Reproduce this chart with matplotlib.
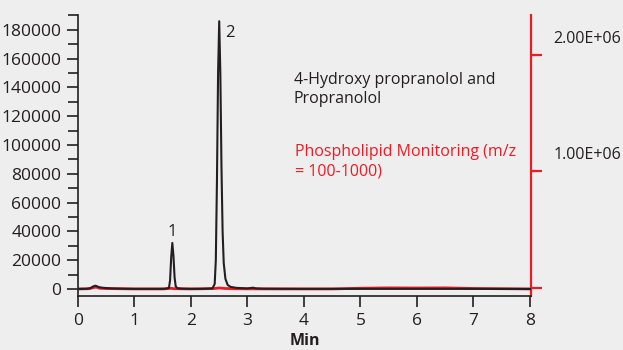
import matplotlib
matplotlib.use("Agg")
import matplotlib.pyplot as plt
from matplotlib.ticker import MultipleLocator
from matplotlib.transforms import ScaledTranslation

# ---- data ----
black_t = [0.0, 0.15, 0.22, 0.27, 0.31, 0.34, 0.38, 0.45, 0.6, 0.8, 1.0, 1.2, 1.4, 1.55,
           1.61, 1.63, 1.65, 1.67, 1.69, 1.71, 1.73, 1.76, 1.85, 2.0, 2.2, 2.38, 2.42,
           2.44, 2.46, 2.48, 2.50, 2.52, 2.54, 2.56, 2.58, 2.61, 2.65, 2.7, 2.8, 3.0,
           3.1, 3.15, 3.3, 4.0, 5.0, 6.0, 7.0, 8.05]
black_v = [0, 100, 600, 1800, 2300, 1800, 1200, 800, 400, 200, 100, 100, 100, 150,
           800, 6000, 22000, 32000, 23000, 8000, 1800, 500, 200, 100, 100, 400, 3500,
           20000, 75000, 150000, 186000, 150000, 85000, 40000, 18000, 7000, 2800, 1500, 800, 400,
           900, 400, 200, 100, 100, 100, 100, 0]

red_t = [0.0, 0.2, 0.28, 0.32, 0.38, 0.5, 0.7, 1.0, 1.5, 1.65, 1.7, 2.0, 2.4, 2.5, 2.6,
         2.8, 3.5, 4.5, 5.0, 5.5, 6.0, 6.5, 7.0, 7.5, 8.05]
red_v = [-8000, -6000, 4000, 8000, -2000, -5000, -6000, -8000, -8000, -3000, -6000, -8000,
         -5000, 0, -4000, -7000, -8000, -8000, -2000, 1000, 0, 1000, -4000, -6000, -8000]

x_ticks = [0, 1, 2, 3, 4, 5, 6, 7, 8]
left_ticks = [0, 20000, 40000, 60000, 80000, 100000, 120000, 140000, 160000, 180000]
right_ticks = [0, 1e6, 2e6]
right_labels = ["", "1.00E+06", "2.00E+06"]

peak_labels = ["1", "2"]
peak_pos = [(1.67, 34000), (2.6, 178000)]

BG = "#eeeeee"
DARK = "#231f20"
RED = "#ed1c24"

plt.rcParams["font.family"] = ["Open Sans", "DejaVu Sans"]

fig = plt.figure(figsize=(6.23, 3.5), dpi=100, facecolor=BG)
ax = fig.add_axes([78/623, 54/350, 453/623, 281/350])
ax.set_facecolor(BG)
ax2 = ax.twinx()

ax2.plot(red_t, red_v, color=RED, lw=2.0, zorder=1)
ax.plot(black_t, black_v, color=DARK, lw=1.5, zorder=3)
ax.set_zorder(ax2.get_zorder() + 1)
ax.patch.set_visible(False)
ax2.patch.set_visible(True)
ax2.patch.set_facecolor(BG)

ax.set_xlim(0, 8.02)
ax.set_ylim(-4860, 190300)
ax2.set_ylim(-68700, 2.343e6)

ax.set_xticks(x_ticks)
ax.set_xticklabels([str(t) for t in x_ticks])
ax.set_yticks(left_ticks)
ax.set_yticklabels([str(t) for t in left_ticks])
ax.yaxis.set_minor_locator(MultipleLocator(10000))

ax.tick_params(axis="both", which="major", direction="out", length=8, width=1.2,
               color=DARK, labelcolor=DARK, labelsize=12.5)
ax.tick_params(axis="y", which="minor", direction="out", length=7, width=1.2, color=DARK)
ax.tick_params(axis="y", pad=4)
ax.tick_params(axis="x", pad=4)

for s in ["top", "right"]:
    ax.spines[s].set_visible(False)
for s in ["left", "bottom"]:
    ax.spines[s].set_color(DARK)
    ax.spines[s].set_linewidth(1.2)

for s in ["top", "left", "bottom"]:
    ax2.spines[s].set_visible(False)
ax2.spines["right"].set_color(RED)
ax2.spines["right"].set_linewidth(1.6)
ax2.set_yticks(right_ticks)
ax2.set_yticklabels(right_labels)
ax2.tick_params(axis="y", direction="out", length=8, width=1.6, color=RED,
                labelcolor=DARK, labelsize=11.5, pad=8)
off = ScaledTranslation(0, 18/100, fig.dpi_scale_trans)
for lab in ax2.get_yticklabels():
    lab.set_transform(lab.get_transform() + off)

ax.set_xlabel("Min", fontsize=11.5, fontweight="bold", color=DARK, labelpad=3)

for lab, (px, py) in zip(peak_labels, peak_pos):
    ax.text(px, py, lab, fontsize=12, color=DARK, ha="center" if lab == "1" else "left",
            va="bottom" if lab == "1" else "center")

ax.text(3.82, 138500, "4-Hydroxy propranolol and\nPropranolol", fontsize=11.5,
        color=DARK, va="center", ha="left", linespacing=1.3)
ax.text(3.85, 88500, "Phospholipid Monitoring (m/z\n= 100-1000)", fontsize=11.5,
        color=RED, va="center", ha="left", linespacing=1.3)

fig.savefig("out.png", dpi=100, facecolor=BG)
